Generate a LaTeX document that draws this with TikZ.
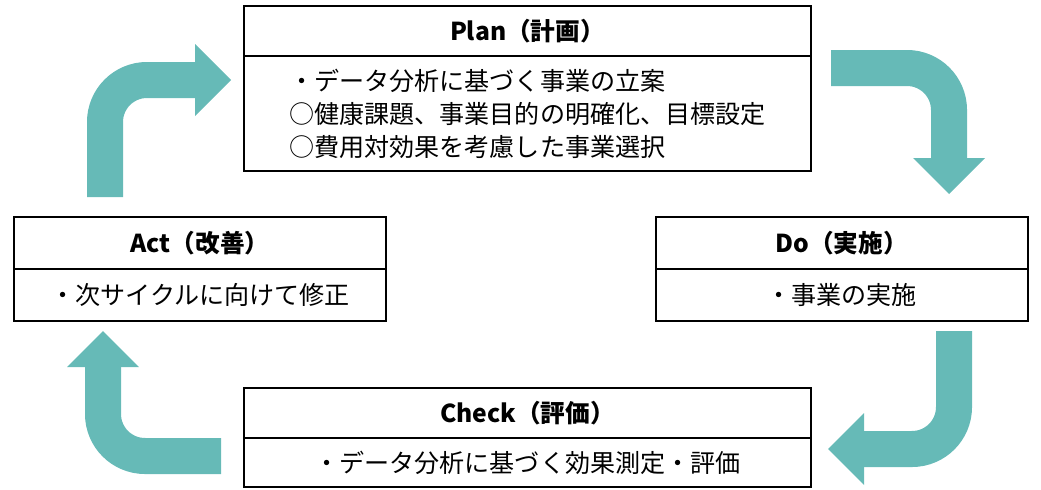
\documentclass[tikz,border=0pt]{standalone}
\usepackage{fontspec}
\setmainfont{Noto Sans CJK JP}
\usepackage{tikz}
\usetikzlibrary{arrows.meta,positioning}
\definecolor{cyc}{HTML}{66BAB7}
\tikzset{
  box/.style={draw, line width=1.5pt, outer sep=0pt, inner sep=0pt},
  ttl/.style={box, font=\bfseries\fontsize{18.5}{22}\selectfont},
  bdy/.style={box, font=\fontsize{18.8}{24.75}\selectfont},
  turn/.style={cyc, line width=27pt, rounded corners=31.5pt,
    -{Triangle[width=54pt,length=27pt,line width=0pt]}},
}

\begin{document}
\begin{tikzpicture}[x=0.75pt,y=-0.75pt]
        \useasboundingbox (0,0) rectangle (1041,489);

        % Define boxes by coordinates
        \node[ttl, minimum width=425.25pt, minimum height=37.5pt, anchor=north] (plant) at (527.5,6) {Plan（計画）};
        \node[bdy, minimum width=425.25pt, minimum height=86.25pt, align=left, below=0pt of plant] (planb)
          {・データ分析に基づく事業の立案\\○健康課題、事業目的の明確化、目標設定\\○費用対効果を考慮した事業選択};

        \node[ttl, minimum width=279pt, minimum height=39pt, anchor=north] (dot) at (841.5,217) {Do（実施）};
        \node[bdy, minimum width=279pt, minimum height=39pt, below=0pt of dot] (dob) {・事業の実施};

        \node[ttl, minimum width=425.25pt, minimum height=37.5pt, anchor=north] (checkt) at (527.5,388) {Check（評価）};
        \node[bdy, minimum width=425.25pt, minimum height=36.75pt, below=0pt of checkt] (checkb) {・データ分析に基づく効果測定・評価};

        \node[ttl, minimum width=279pt, minimum height=39pt, anchor=north] (actt) at (200,217) {Act（改善）};
        \node[bdy, minimum width=279pt, minimum height=39pt, below=0pt of actt] (actb) {・次サイクルに向けて修正};

        % Ends of the turning arrows
        \coordinate (a1s) at (105,197);
        \coordinate (a1e) at (231,80);
        \coordinate (a2s) at (831,68);
        \coordinate (a2e) at (949,194);
        \coordinate (a3s) at (954,331);
        \coordinate (a3e) at (828,449);
        \coordinate (a4s) at (221,456);
        \coordinate (a4e) at (103,331);

        % Draw arrows
        \draw[turn] (a1s) |- (a1e);
        \draw[turn] (a2s) -| (a2e);
        \draw[turn] (a3s) |- (a3e);
        \draw[turn] (a4s) -| (a4e);

\end{tikzpicture}
\end{document}
